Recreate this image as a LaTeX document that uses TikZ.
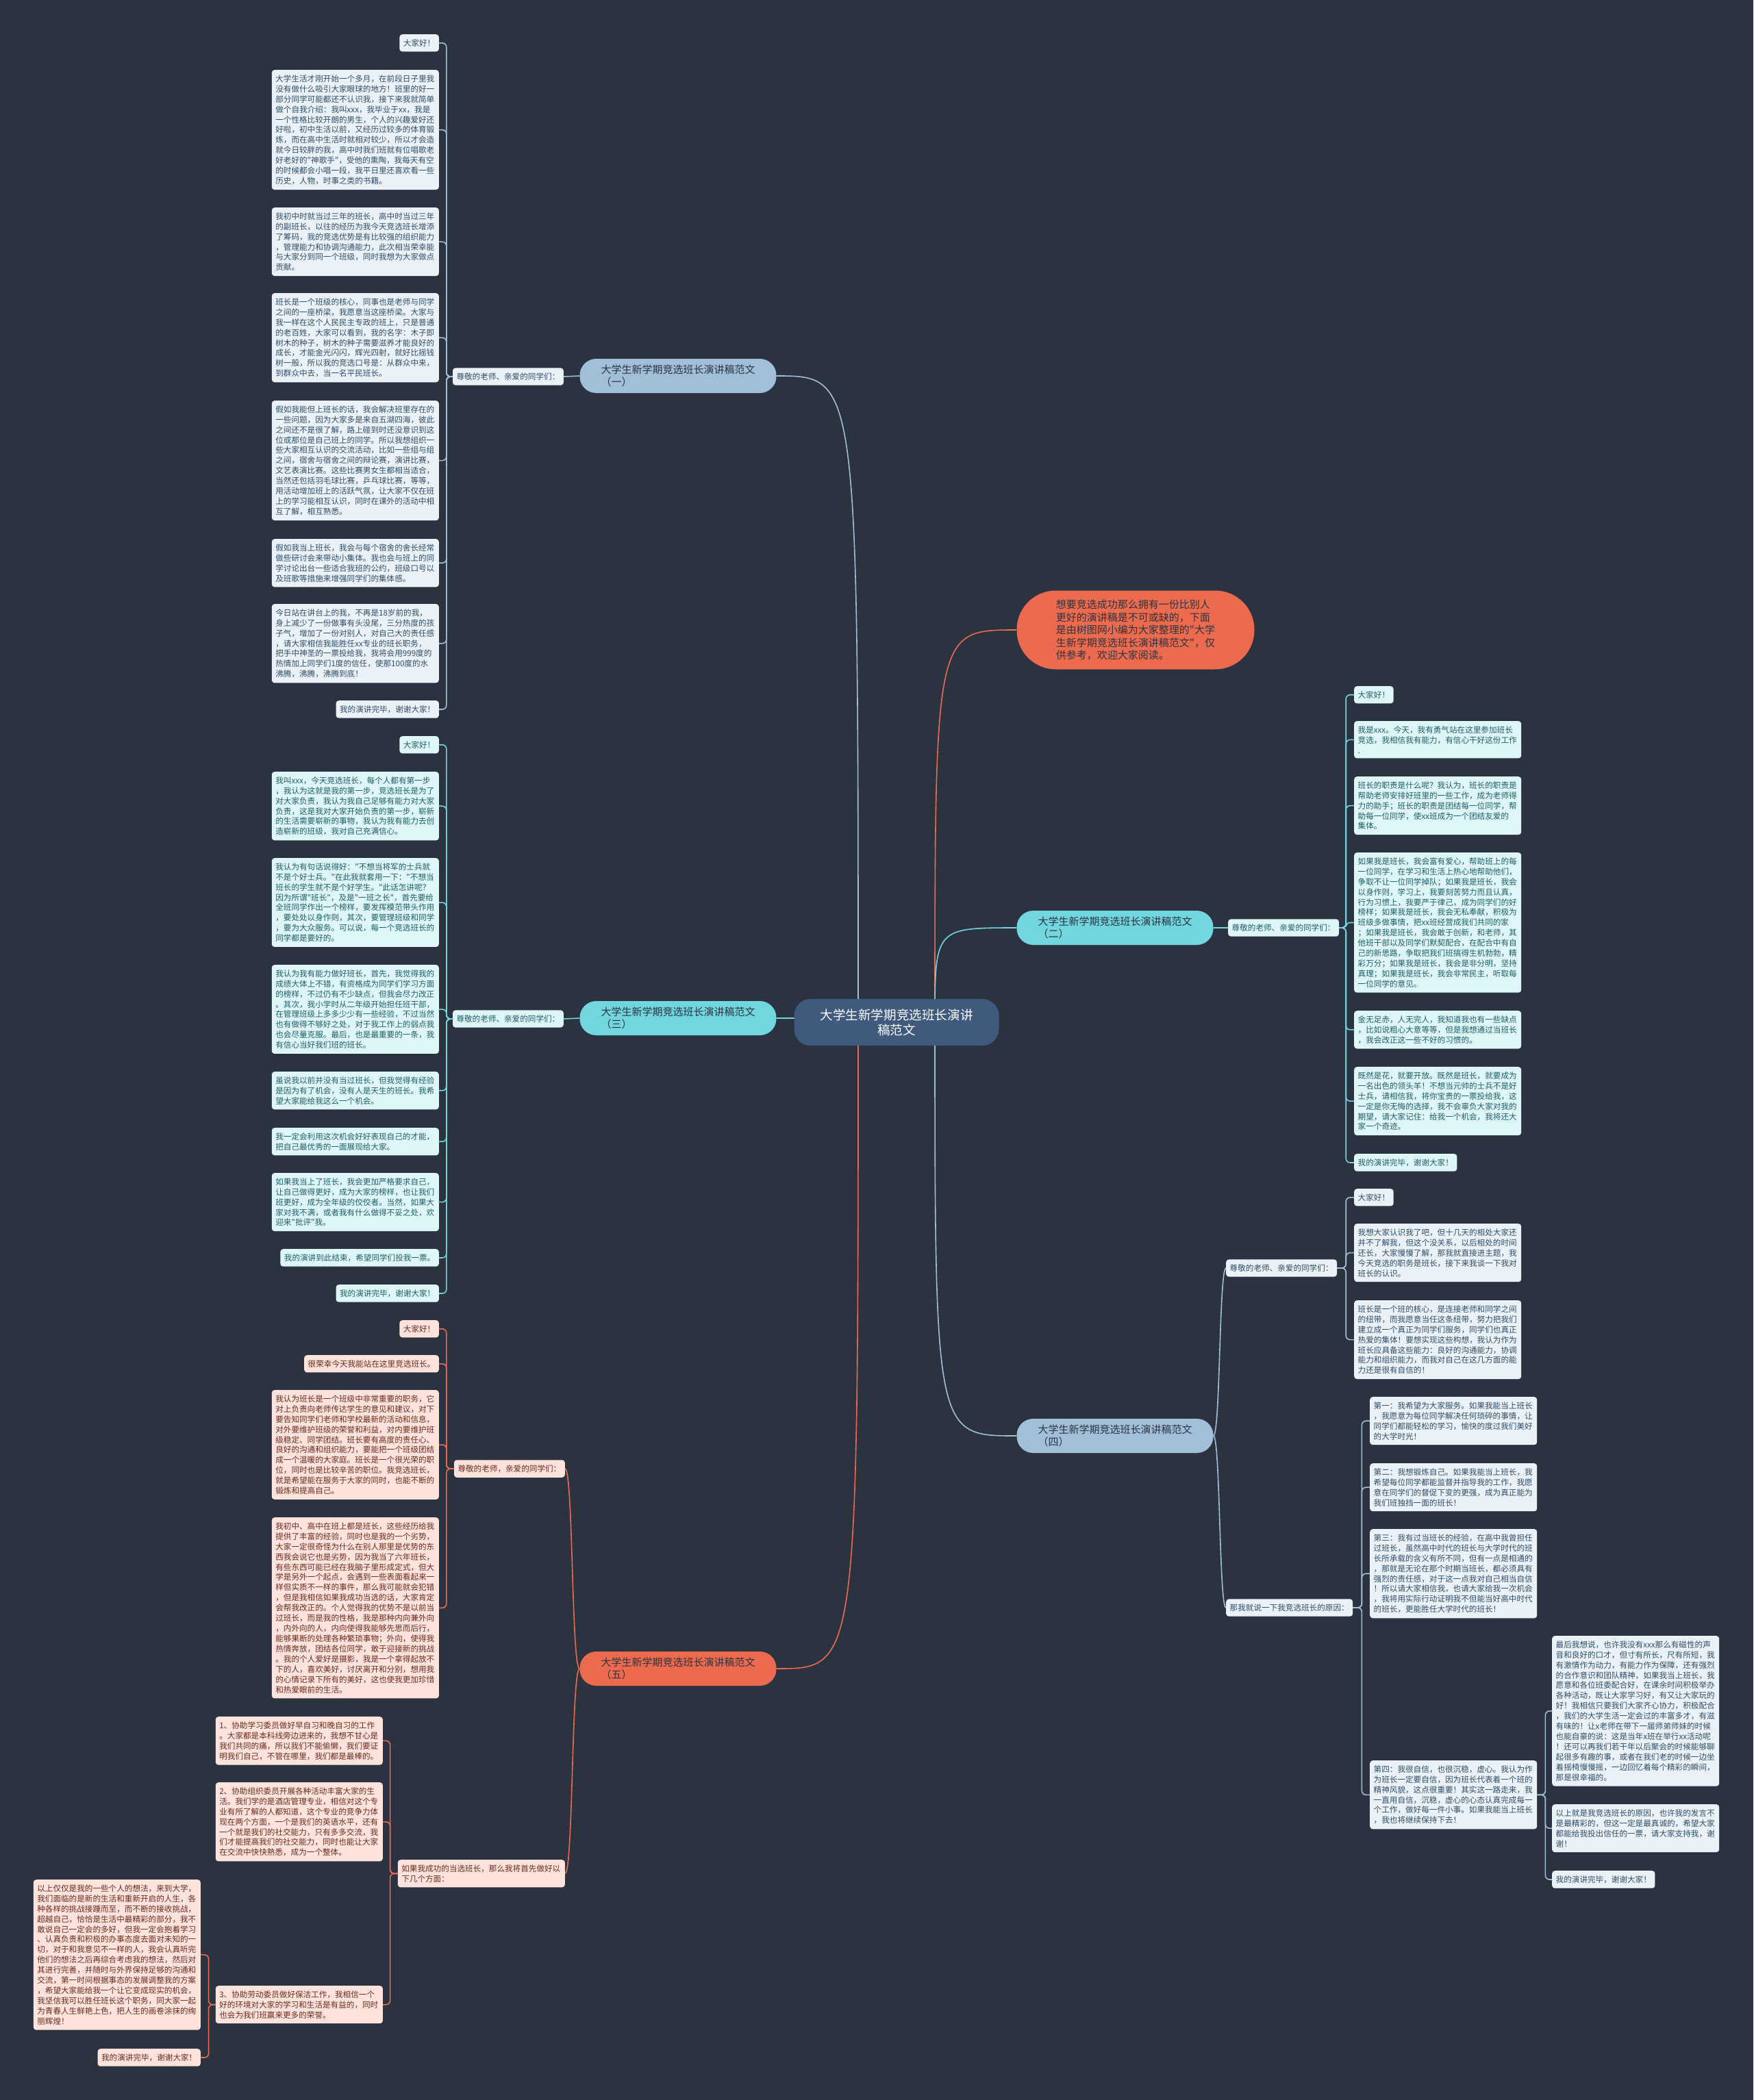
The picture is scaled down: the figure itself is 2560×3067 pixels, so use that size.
\documentclass[tikz,border=0pt]{standalone}
\usepackage{fontspec}
\newfontfamily\zh{Noto Sans CJK SC}
\usepackage{tikz}
\usetikzlibrary{positioning, calc, backgrounds}
\definecolor{bgc}{HTML}{2B3341}
\definecolor{rootc}{HTML}{3F5A7D}
\definecolor{steel}{HTML}{A1BFD8}
\definecolor{aqua}{HTML}{72D6DE}
\definecolor{coral}{HTML}{EC6B4E}
\definecolor{steelleaf}{HTML}{EBF2F7}
\definecolor{aqualeaf}{HTML}{DFF6F8}
\definecolor{coralleaf}{HTML}{FDE3DB}
\definecolor{steeltext}{HTML}{2E4D68}
\definecolor{aquatext}{HTML}{1D5E66}
\definecolor{coraltext}{HTML}{6A2B1F}
\definecolor{inktext}{HTML}{2B3341}
\tikzset{
  leaf/.style={rounded corners=4pt, inner xsep=5.5pt, inner ysep=7.2pt, align=left,
    font=\zh\fontsize{11.6}{14.94}\selectfont},
  para/.style={leaf, text width=233pt},
  sleaf/.style={fill=steelleaf, text=steeltext},
  aleaf/.style={fill=aqualeaf, text=aquatext},
  cleaf/.style={fill=coralleaf, text=coraltext},
  branch/.style={rounded corners=24pt, minimum width=287pt, minimum height=50pt,
    align=left, text=inktext, font=\zh\fontsize{15}{18}\selectfont},
  wsteel/.style={draw=steel, line width=1.6pt},
  waqua/.style={draw=aqua, line width=1.6pt},
  wcoral/.style={draw=coral, line width=1.6pt},
}
\begin{document}
\begin{tikzpicture}[x=1pt, y=-1pt]
  \useasboundingbox (0,0) rectangle (2560,3067);
  % centre and intro
  \node[fill=rootc, text=white, rounded corners=24pt, minimum width=299pt, minimum height=68pt,
    align=center, font=\zh\fontsize{18.6}{22}\selectfont] (root) at (1309,1493)
    {大学生新学期竞选班长演讲\\稿范文};
  \node[fill=coral, text=inktext, rounded corners=57pt, minimum width=347pt, minimum height=115pt,
    align=left, font=\zh\fontsize{15}{18.5}\selectfont] (intro) at (1658,920)
    {想要竞选成功那么拥有一份比别人\\更好的演讲稿是不可或缺的，下面\\是由树图网小编为大家整理的"大学\\生新学期竞选班长演讲稿范文"，仅\\供参考，欢迎大家阅读。};
  \coordinate (cr) at ($(root.center)+(56,0)$);
  \coordinate (cl) at ($(root.center)+(-56,0)$);
  % main branches
  \node[branch, fill=steel] (br1) at (990,549) {大学生新学期竞选班长演讲稿范文\\（一）};
  \node[branch, fill=aqua] (br2) at (1628,1355) {大学生新学期竞选班长演讲稿范文\\（二）};
  \node[branch, fill=aqua] (br3) at (990,1487) {大学生新学期竞选班长演讲稿范文\\（三）};
  \node[branch, fill=steel] (br4) at (1628,2097) {大学生新学期竞选班长演讲稿范文\\（四）};
  \node[branch, fill=coral] (br5) at (990,2437) {大学生新学期竞选班长演讲稿范文\\（五）};

  % Branch 1
  \node[leaf, sleaf, anchor=east] (lab1) at (823,550) {尊敬的老师、亲爱的同学们：};
  \node[leaf, sleaf, anchor=north east] (a1) at (641,50) {大家好！};
  \node[para, sleaf, anchor=north east] (a2) at (641,102) {大学生活才刚开始一个多月，在前段日子里我\\没有做什么吸引大家眼球的地方！班里的好一\\部分同学可能都还不认识我，接下来我就简单\\做个自我介绍：我叫xxx，我毕业于xx，我是\\一个性格比较开朗的男生，个人的兴趣爱好还\\好啦，初中生活以前，又经历过较多的体育锻\\炼，而在高中生活时就相对较少，所以才会造\\就今日较胖的我，高中时我们班就有位唱歌老\\好老好的"神歌手"，受他的熏陶，我每天有空\\的时候都会小唱一段，我平日里还喜欢看一些\\历史，人物，时事之类的书籍。};
  \node[para, sleaf, anchor=north east] (a3) at (641,303) {我初中时就当过三年的班长，高中时当过三年\\的副班长，以往的经历为我今天竞选班长增添\\了筹码，我的竞选优势是有比较强的组织能力\\，管理能力和协调沟通能力，此次相当荣幸能\\与大家分到同一个班级，同时我想为大家做点\\贡献。};
  \node[para, sleaf, anchor=north east] (a4) at (641,428) {班长是一个班级的核心，同事也是老师与同学\\之间的一座桥梁，我愿意当这座桥梁。大家与\\我一样在这个人民民主专政的班上，只是普通\\的老百姓，大家可以看到，我的名字：木子即\\树木的种子，树木的种子需要滋养才能良好的\\成长，才能金光闪闪，辉光四射，就好比摇钱\\树一般，所以我的竞选口号是：从群众中来，\\到群众中去，当一名平民班长。};
  \node[para, sleaf, anchor=north east] (a5) at (641,585) {假如我能但上班长的话，我会解决班里存在的\\一些问题，因为大家多是来自五湖四海，彼此\\之间还不是很了解，路上碰到时还没意识到这\\位或那位是自己班上的同学。所以我想组织一\\些大家相互认识的交流活动，比如一些组与组\\之间，宿舍与宿舍之间的辩论赛，演讲比赛，\\文艺表演比赛。这些比赛男女生都相当适合，\\当然还包括羽毛球比赛，乒乓球比赛，等等，\\用活动增加班上的活跃气氛，让大家不仅在班\\上的学习能相互认识，同时在课外的活动中相\\互了解，相互熟悉。};
  \node[para, sleaf, anchor=north east] (a6) at (641,787) {假如我当上班长，我会与每个宿舍的舍长经常\\做些研讨会来带动小集体。我也会与班上的同\\学讨论出台一些适合我班的公约，班级口号以\\及班歌等措施来增强同学们的集体感。};
  \node[para, sleaf, anchor=north east] (a7) at (641,882) {今日站在讲台上的我，不再是18岁前的我，\\身上减少了一份做事有头没尾，三分热度的孩\\子气，增加了一份对别人，对自己大的责任感\\，请大家相信我能胜任xx专业的班长职务，\\把手中神圣的一票投给我，我将会用999度的\\热情加上同学们1度的信任，使那100度的水\\沸腾，沸腾，沸腾到底！};
  \node[leaf, sleaf, anchor=north east] (a8) at (641,1023) {我的演讲完毕，谢谢大家！};

  % Branch 2
  \node[leaf, aleaf, anchor=west] (lab2) at (1793,1355) {尊敬的老师、亲爱的同学们：};
  \node[leaf, aleaf, anchor=north west] (b1) at (1977,1002) {大家好！};
  \node[para, aleaf, anchor=north west] (b2) at (1977,1053) {我是xxx。今天，我有勇气站在这里参加班长\\竞选，我相信我有能力，有信心干好这份工作\\.};
  \node[para, aleaf, anchor=north west] (b3) at (1977,1134) {班长的职责是什么呢？我认为，班长的职责是\\帮助老师安排好班里的一些工作，成为老师得\\力的助手；班长的职责是团结每一位同学，帮\\助每一位同学，使xx班成为一个团结友爱的\\集体。};
  \node[para, aleaf, anchor=north west] (b4) at (1977,1245) {如果我是班长，我会富有爱心，帮助班上的每\\一位同学，在学习和生活上热心地帮助他们，\\争取不让一位同学掉队；如果我是班长，我会\\以身作则，学习上，我要刻苦努力而且认真，\\行为习惯上，我要严于律己，成为同学们的好\\榜样；如果我是班长，我会无私奉献，积极为\\班级多做事情，把xx班经营成我们共同的家\\；如果我是班长，我会敢于创新，和老师，其\\他班干部以及同学们默契配合，在配合中有自\\己的新思路，争取把我们班搞得生机勃勃，精\\彩万分；如果我是班长，我会是非分明，坚持\\真理；如果我是班长，我会非常民主，听取每\\一位同学的意见。};
  \node[para, aleaf, anchor=north west] (b5) at (1977,1476) {金无足赤，人无完人，我知道我也有一些缺点\\，比如说粗心大意等等，但是我想通过当班长\\，我会改正这一些不好的习惯的。};
  \node[para, aleaf, anchor=north west] (b6) at (1977,1558) {既然是花，就要开放。既然是班长，就要成为\\一名出色的领头羊！不想当元帅的士兵不是好\\士兵，请相信我，将你宝贵的一票投给我，这\\一定是你无悔的选择，我不会辜负大家对我的\\期望，请大家记住：给我一个机会，我将还大\\家一个奇迹。};
  \node[leaf, aleaf, anchor=north west] (b7) at (1977,1685) {我的演讲完毕，谢谢大家！};

  % Branch 3
  \node[leaf, aleaf, anchor=east] (lab3) at (823,1488) {尊敬的老师、亲爱的同学们：};
  \node[leaf, aleaf, anchor=north east] (c1) at (641,1075) {大家好！};
  \node[para, aleaf, anchor=north east] (c2) at (641,1127) {我叫xxx，今天竞选班长，每个人都有第一步\\，我认为这就是我的第一步，竞选班长是为了\\对大家负责，我认为我自己足够有能力对大家\\负责，这是我对大家开始负责的第一步，崭新\\的生活需要崭新的事物，我认为我有能力去创\\造崭新的班级，我对自己充满信心。};
  \node[para, aleaf, anchor=north east] (c3) at (641,1253) {我认为有句话说得好："不想当将军的士兵就\\不是个好士兵。"在此我就套用一下："不想当\\班长的学生就不是个好学生。"此话怎讲呢？\\因为所谓"班长"，及是"一班之长"，首先要给\\全班同学作出一个榜样，要发挥模范带头作用\\，要处处以身作则，其次，要管理班级和同学\\，要为大众服务。可以说，每一个竞选班长的\\同学都是要好的。};
  \node[para, aleaf, anchor=north east] (c4) at (641,1409) {我认为我有能力做好班长，首先，我觉得我的\\成绩大体上不错，有资格成为同学们学习方面\\的榜样，不过仍有不少缺点，但我会尽力改正\\。其次，我小学时从二年级开始担任班干部，\\在管理班级上多多少少有一些经验，不过当然\\也有做得不够好之处，对于我工作上的弱点我\\也会尽量克服。最后，也是最重要的一条，我\\有信心当好我们班的班长。};
  \node[para, aleaf, anchor=north east] (c5) at (641,1565) {虽说我以前并没有当过班长，但我觉得有经验\\是因为有了机会，没有人是天生的班长。我希\\望大家能给我这么一个机会。};
  \node[para, aleaf, anchor=north east] (c6) at (641,1647) {我一定会利用这次机会好好表现自己的才能，\\把自己最优秀的一面展现给大家。};
  \node[para, aleaf, anchor=north east] (c7) at (641,1713) {如果我当上了班长，我会更加严格要求自己，\\让自己做得更好，成为大家的榜样，也让我们\\班更好，成为全年级的佼佼者。当然，如果大\\家对我不满，或者我有什么做得不妥之处，欢\\迎来"批评"我。};
  \node[leaf, aleaf, anchor=north east] (c8) at (641,1824) {我的演讲到此结束，希望同学们投我一票。};
  \node[leaf, aleaf, anchor=north east] (c9) at (641,1876) {我的演讲完毕，谢谢大家！};

  % Branch 4
  \node[leaf, sleaf, anchor=west] (lab4a) at (1790,1852) {尊敬的老师、亲爱的同学们：};
  \node[leaf, sleaf, anchor=west] (lab4b) at (1790,2348) {那我就说一下我竞选班长的原因：};
  \node[leaf, sleaf, anchor=north west] (d1) at (1977,1736) {大家好！};
  \node[para, sleaf, anchor=north west] (d2) at (1977,1787) {我想大家认识我了吧，但十几天的相处大家还\\并不了解我，但这个没关系，以后相处的时间\\还长，大家慢慢了解，那我就直接进主题，我\\今天竞选的职务是班长，接下来我谈一下我对\\班长的认识。};
  \node[para, sleaf, anchor=north west] (d3) at (1977,1899) {班长是一个班的核心，是连接老师和同学之间\\的纽带，而我愿意当任这条纽带，努力把我们\\建立成一个真正为同学们服务，同学们也真正\\热爱的集体！要想实现这些构想，我认为作为\\班长应具备这些能力：良好的沟通能力，协调\\能力和组织能力，而我对自己在这几方面的能\\力还是很有自信的！};
  \node[para, sleaf, anchor=north west] (e1) at (2000,2040) {第一：我希望为大家服务。如果我能当上班长\\，我愿意为每位同学解决任何琐碎的事情，让\\同学们都能轻松的学习，愉快的度过我们美好\\的大学时光！};
  \node[para, sleaf, anchor=north west] (e2) at (2000,2137) {第二：我想锻炼自己。如果我能当上班长，我\\希望每位同学都能监督并指导我的工作，我愿\\意在同学们的督促下变的更强，成为真正能为\\我们班独挡一面的班长！};
  \node[para, sleaf, anchor=north west] (e3) at (2000,2233) {第三：我有过当班长的经验，在高中我曾担任\\过班长，虽然高中时代的班长与大学时代的班\\长所承载的含义有所不同，但有一点是相通的\\，那就是无论在那个时期当班长，都必须具有\\强烈的责任感，对于这一点我对自己相当自信\\！所以请大家相信我，也请大家给我一次机会\\，我将用实际行动证明我不但能当好高中时代\\的班长，更能胜任大学时代的班长！};
  \node[para, sleaf, anchor=north west] (e4) at (2000,2571) {第四：我很自信，也很沉稳，虚心。我认为作\\为班长一定要自信，因为班长代表着一个班的\\精神风貌，这点很重要！其实这一路走来，我\\一直用自信，沉稳，虚心的心态认真完成每一\\个工作，做好每一件小事。如果我能当上班长\\，我也将继续保持下去！};
  \node[para, sleaf, anchor=north west] (f1) at (2266,2389) {最后我想说，也许我没有xxx那么有磁性的声\\音和良好的口才，但寸有所长，尺有所短，我\\有激情作为动力，有能力作为保障，还有强烈\\的合作意识和团队精神，如果我当上班长，我\\愿意和各位班委配合好，在课余时间积极举办\\各种活动，既让大家学习好，有又让大家玩的\\好！我相信只要我们大家齐心协力，积极配合\\，我们的大学生活一定会过的丰富多才，有滋\\有味的！让x老师在带下一届师弟师妹的时候\\也能自豪的说：这是当年x班在举行xx活动呢\\！还可以再我们若干年以后聚会的时候能够聊\\起很多有趣的事，或者在我们老的时候一边坐\\着摇椅慢慢摇，一边回忆着每个精彩的瞬间，\\那是很幸福的。};
  \node[para, sleaf, anchor=north west] (f2) at (2266,2635) {以上就是我竞选班长的原因，也许我的发言不\\是最精彩的，但这一定是最真诚的，希望大家\\都能给我投出信任的一票，请大家支持我，谢\\谢！};
  \node[leaf, sleaf, anchor=north west] (f3) at (2266,2732) {我的演讲完毕，谢谢大家！};

  % Branch 5
  \node[leaf, cleaf, anchor=east] (lab5a) at (825,2145) {尊敬的老师，亲爱的同学们：};
  \node[para, cleaf, anchor=north east] (lab5b) at (825,2716) {如果我成功的当选班长，那么我将首先做好以\\下几个方面：};
  \node[leaf, cleaf, anchor=north east] (g1) at (641,1928) {大家好！};
  \node[leaf, cleaf, anchor=north east] (g2) at (641,1979) {很荣幸今天我能站在这里竞选班长。};
  \node[para, cleaf, anchor=north east] (g3) at (641,2030) {我认为班长是一个班级中非常重要的职务，它\\对上负责向老师传达学生的意见和建议，对下\\要告知同学们老师和学校最新的活动和信息，\\对外要维护班级的荣誉和利益，对内要维护班\\级稳定、同学团结。班长要有高度的责任心、\\良好的沟通和组织能力，要能把一个班级团结\\成一个温暖的大家庭。班长是一个很光荣的职\\位，同时也是比较辛苦的职位。我竞选班长，\\就是希望能在服务于大家的同时，也能不断的\\锻炼和提高自己。};
  \node[para, cleaf, anchor=north east] (g4) at (641,2216) {我初中、高中在班上都是班长，这些经历给我\\提供了丰富的经验，同时也是我的一个劣势，\\大家一定很奇怪为什么在别人那里是优势的东\\西我会说它也是劣势，因为我当了六年班长，\\有些东西可能已经在我脑子里形成定式，但大\\学是另外一个起点，会遇到一些表面看起来一\\样但实质不一样的事件，那么我可能就会犯错\\，但是我相信如果我成功当选的话，大家肯定\\会帮我改正的。个人觉得我的优势不是以前当\\过班长，而是我的性格，我是那种内向兼外向\\，内外向的人，内向使得我能够先思而后行，\\能够果断的处理各种繁琐事物；外向，使得我\\热情奔放，团结各位同学，敢于迎接新的挑战\\。我的个人爱好是摄影，我是一个拿得起放不\\下的人，喜欢美好，讨厌离开和分别，想用我\\的心情记录下所有的美好，这也使我更加珍惜\\和热爱眼前的生活。};
  \node[para, cleaf, anchor=north east] (k1) at (559,2507) {1、协助学习委员做好早自习和晚自习的工作\\。大家都是本科线旁边进来的，我想不甘心是\\我们共同的痛，所以我们不能偷懒，我们要证\\明我们自己，不管在哪里，我们都是最棒的。};
  \node[para, cleaf, anchor=north east] (k2) at (559,2603) {2、协助组织委员开展各种活动丰富大家的生\\活。我们学的是酒店管理专业，相信对这个专\\业有所了解的人都知道，这个专业的竞争力体\\现在两个方面，一个是我们的英语水平，还有\\一个就是我们的社交能力，只有多多交流，我\\们才能提高我们的社交能力，同时也能让大家\\在交流中快快熟悉，成为一个整体。};
  \node[para, cleaf, anchor=north east] (k3) at (559,2900) {3、协助劳动委员做好保洁工作，我相信一个\\好的环境对大家的学习和生活是有益的，同时\\也会为我们班赢来更多的荣誉。};
  \node[para, cleaf, anchor=north east] (h1) at (293,2745) {以上仅仅是我的一些个人的想法，来到大学，\\我们面临的是新的生活和重新开启的人生，各\\种各样的挑战接踵而至，而不断的接收挑战，\\超越自己，恰恰是生活中最精彩的部分，我不\\敢说自己一定会的多好，但我一定会抱着学习\\、认真负责和积极的办事态度去面对未知的一\\切，对于和我意见不一样的人，我会认真听完\\他们的想法之后再综合考虑我的想法，然后对\\其进行完善，并随时与外界保持足够的沟通和\\交流，第一时间根据事态的发展调整我的方案\\，希望大家能给我一个让它变成现实的机会，\\我坚信我可以胜任班长这个职务，同大家一起\\为青春人生鲜艳上色，把人生的画卷涂抹的绚\\丽辉煌！};
  \node[leaf, cleaf, anchor=north east] (h2) at (293,2992) {我的演讲完毕，谢谢大家！};

  \begin{scope}[on background layer]
    \fill[bgc] (0,0) rectangle (2560,3067);
    % trunk curves
    \draw[wcoral] (cr) .. controls (cr |- intro.west) .. (intro.west);
    \draw[waqua] (cr) .. controls (cr |- br2.west) .. (br2.west);
    \draw[wsteel] (cr) .. controls (cr |- br4.west) .. (br4.west);
    \draw[wsteel] (cl) .. controls (cl |- br1.east) .. (br1.east);
    \draw[waqua] (cl) .. controls (cl |- br3.east) .. (br3.east);
    \draw[wcoral] (cl) .. controls (cl |- br5.east) .. (br5.east);
    % branch to label
    \draw[wsteel] (br1.west) .. controls +(-12,0) and +(12,0) .. (lab1.east);
    \draw[waqua] (br2.east) .. controls +(12,0) and +(-12,0) .. (lab2.west);
    \draw[waqua] (br3.west) .. controls +(-12,0) and +(12,0) .. (lab3.east);
    \draw[wsteel] (br4.east) .. controls +(10,0) and +(-10,0) .. (lab4a.west);
    \draw[wsteel] (br4.east) .. controls +(10,0) and +(-10,0) .. (lab4b.west);
    \draw[wcoral] (br5.west) .. controls +(-12,0) and +(12,0) .. (lab5a.east);
    \draw[wcoral] (br5.west) .. controls +(-12,0) and +(12,0) .. (lab5b.east);
    % label to leaves
    \foreach \n in {a1,a2,a3,a4,a5,a6,a7,a8}
      \draw[wsteel, rounded corners=6pt] (lab1.west) -- ++(-9,0) |- (\n.east);
    \foreach \n in {b1,b2,b3,b4,b5,b6,b7}
      \draw[waqua, rounded corners=6pt] (lab2.east) -- ++(10,0) |- (\n.west);
    \foreach \n in {c1,c2,c3,c4,c5,c6,c7,c8,c9}
      \draw[waqua, rounded corners=6pt] (lab3.west) -- ++(-9,0) |- (\n.east);
    \foreach \n in {d1,d2,d3}
      \draw[wsteel, rounded corners=6pt] (lab4a.east) -- ++(13,0) |- (\n.west);
    \foreach \n in {e1,e2,e3,e4}
      \draw[wsteel, rounded corners=6pt] (lab4b.east) -- ++(13,0) |- (\n.west);
    \foreach \n in {f1,f2,f3}
      \draw[wsteel, rounded corners=6pt] (e4.east) -- ++(12,0) |- (\n.west);
    \foreach \n in {g1,g2,g3,g4}
      \draw[wcoral, rounded corners=6pt] (lab5a.west) -- ++(-11,0) |- (\n.east);
    \foreach \n in {k1,k2,k3}
      \draw[wcoral, rounded corners=6pt] (lab5b.west) -- ++(-11,0) |- (\n.east);
    \foreach \n in {h1,h2}
      \draw[wcoral, rounded corners=6pt] (k3.west) -- ++(-10,0) |- (\n.east);
  \end{scope}
\end{tikzpicture}
\end{document}
